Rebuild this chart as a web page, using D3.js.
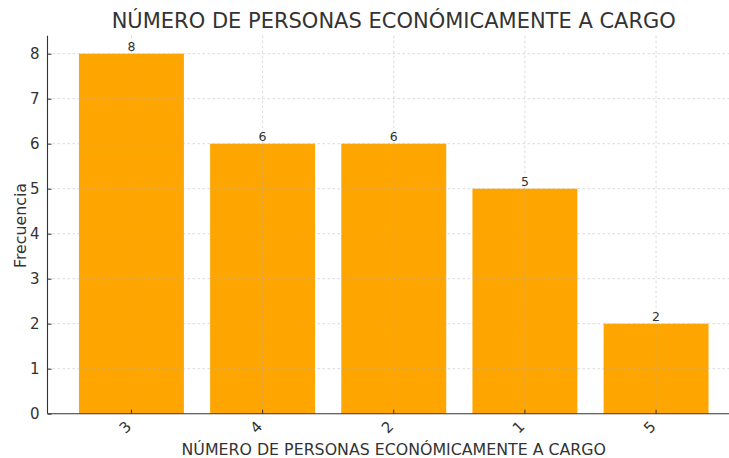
<!DOCTYPE html>
<html>
<head>
<meta charset="utf-8">
<script src="https://cdn.jsdelivr.net/npm/d3@7"></script>
<style>
  body { margin: 0; background: #fff; }
  text { font-family: "DejaVu Sans", sans-serif; fill: #333; }
</style>
</head>
<body>
<div id="chart"></div>
<script>
var categories = ["3", "4", "2", "1", "5"];
var frecuencias = [8, 6, 6, 5, 2];
var yTicks = [0, 1, 2, 3, 4, 5, 6, 7, 8];
var titulo = "NÚMERO DE PERSONAS ECONÓMICAMENTE A CARGO";

var W = 729, H = 458;
var plot = { left: 47.5, right: 740, top: 35.7, bottom: 413.7 };

var datum = categories.map(function(c, i){ return { cat: c, val: frecuencias[i] }; });

var xScale = d3.scaleBand()
    .domain(categories)
    .range([plot.left, plot.right])
    .paddingInner(0.2)
    .paddingOuter(0.24);

var yScale = d3.scaleLinear()
    .domain([0, 8.4])
    .range([plot.bottom, plot.top]);

var svg = d3.select("#chart").append("svg")
    .attr("width", W)
    .attr("height", H);

// bars
svg.selectAll("rect.bar")
    .data(datum)
    .enter()
    .append("rect")
    .attr("class", "bar")
    .attr("x", function(d){ return xScale(d.cat); })
    .attr("y", function(d){ return yScale(d.val); })
    .attr("width", xScale.bandwidth())
    .attr("height", function(d){ return plot.bottom - yScale(d.val); })
    .attr("fill", "#FFA500");

// grid on top of bars
var grid = svg.append("g").attr("class", "grid")
    .attr("stroke", "#b0b0b0")
    .attr("stroke-opacity", 0.6)
    .attr("stroke-width", 0.8)
    .attr("stroke-dasharray", "2.5,2.5");

grid.selectAll("line.h")
    .data(yTicks.slice(1))
    .enter().append("line")
    .attr("x1", plot.left).attr("x2", W)
    .attr("y1", function(d){ return yScale(d); })
    .attr("y2", function(d){ return yScale(d); });

grid.selectAll("line.v")
    .data(categories)
    .enter().append("line")
    .attr("x1", function(d){ return xScale(d) + xScale.bandwidth() / 2; })
    .attr("x2", function(d){ return xScale(d) + xScale.bandwidth() / 2; })
    .attr("y1", plot.top).attr("y2", plot.bottom);

// axes
var yAxis = d3.axisLeft(yScale).tickValues(yTicks).tickSize(-4).tickPadding(8).tickFormat(d3.format("d"));
var xAxis = d3.axisBottom(xScale).tickSize(-4).tickPadding(6);

var gy = svg.append("g")
    .attr("transform", "translate(" + plot.left + ",0)")
    .call(yAxis);
gy.select(".domain").attr("d", "M0," + plot.top + "V" + plot.bottom);

var gx = svg.append("g")
    .attr("transform", "translate(0," + plot.bottom + ")")
    .call(xAxis);
gx.select(".domain").attr("d", "M" + plot.left + ",0H" + W);

svg.selectAll(".domain").attr("stroke", "#333").attr("stroke-width", 1.1);
svg.selectAll(".tick line").attr("stroke", "#333");
gy.selectAll(".tick text").attr("font-size", 15).attr("font-family", "DejaVu Sans").attr("fill", "#333");

gx.selectAll(".tick text")
    .attr("font-size", 15)
    .attr("font-family", "DejaVu Sans")
    .attr("fill", "#333")
    .attr("text-anchor", "end")
    .attr("dy", "0.35em")
    .attr("transform", "translate(-3,10) rotate(-45)")
    .attr("y", 0)
    .attr("x", 0);

// value labels
svg.selectAll("text.val")
    .data(datum)
    .enter().append("text")
    .attr("class", "val")
    .attr("x", function(d){ return xScale(d.cat) + xScale.bandwidth() / 2; })
    .attr("y", function(d){ return yScale(d.val) - 3; })
    .attr("text-anchor", "middle")
    .attr("font-size", 12.5)
    .text(function(d){ return d.val; });

// titles
svg.append("text")
    .attr("x", (plot.left + plot.right) / 2)
    .attr("y", 28)
    .attr("text-anchor", "middle")
    .attr("font-size", 21)
    .attr("fill", "#444")
    .text(titulo);

svg.append("text")
    .attr("x", (plot.left + plot.right) / 2)
    .attr("y", 455)
    .attr("text-anchor", "middle")
    .attr("font-size", 15.8)
    .text(titulo);

svg.append("text")
    .attr("transform", "translate(26,225.5) rotate(-90)")
    .attr("text-anchor", "middle")
    .attr("font-size", 15.8)
    .text("Frecuencia");
</script>
</body>
</html>
